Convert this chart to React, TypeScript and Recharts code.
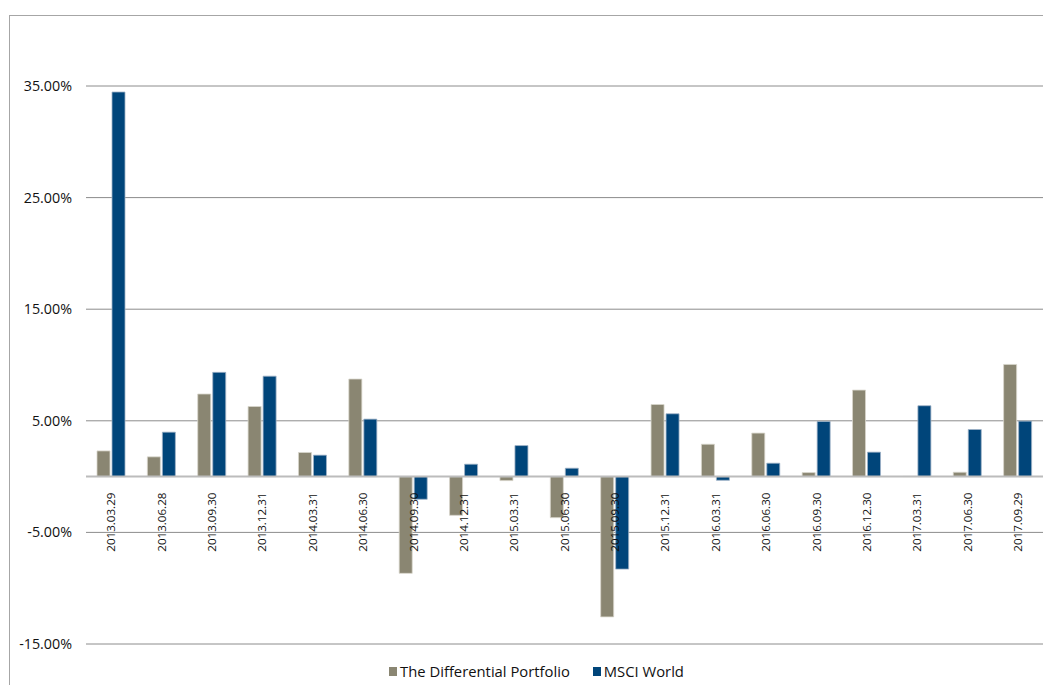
import { BarChart, Bar, XAxis, YAxis, CartesianGrid, ReferenceLine } from 'recharts';

const quarters = [
  '2013.03.29', '2013.06.28', '2013.09.30', '2013.12.31', '2014.03.31',
  '2014.06.30', '2014.09.30', '2014.12.31', '2015.03.31', '2015.06.30',
  '2015.09.30', '2015.12.31', '2016.03.31', '2016.06.30', '2016.09.30',
  '2016.12.30', '2017.03.31', '2017.06.30', '2017.09.29',
];

const differential = [
  2.3, 1.77, 7.4, 6.28, 2.16, 8.74, -8.67, -3.47, -0.36, -3.68,
  -12.57, 6.46, 2.9, 3.9, 0.36, 7.75, 0.02, 0.39, 10.05,
];

const msciWorld = [
  34.46, 3.98, 9.34, 9.0, 1.92, 5.15, -2.03, 1.11, 2.78, 0.75,
  -8.29, 5.63, -0.33, 1.2, 4.94, 2.19, 6.35, 4.22, 4.97,
];

const yTicks = [-15, -5, 5, 15, 25, 35];

const GREY = '#8a8672';
const NAVY = '#00457a';
const FONT = '"Open Sans", "Noto Sans", sans-serif';

const W = 1043;
const H = 685;
const MARGIN = { top: 86, right: 0, bottom: 40, left: 0 };
const X_AXIS_H = 1;
const Y_MIN = -15;
const Y_MAX = 35;
const PLOT_H = H - MARGIN.top - MARGIN.bottom - X_AXIS_H;

const series = [
  { key: 'portfolio', name: 'The Differential Portfolio', color: GREY, edge: '#d8d6cc' },
  { key: 'msci', name: 'MSCI World', color: NAVY, edge: '#9fb3c6' },
];

const data = quarters.map((q, i) => ({
  quarter: q,
  portfolio: differential[i],
  msci: msciWorld[i],
}));

// date labels sit just below the zero line rather than at the plot bottom
const QuarterTick = ({ x, payload }: any) => {
  const zeroY = MARGIN.top + ((Y_MAX - 0) / (Y_MAX - Y_MIN)) * PLOT_H;
  const ty = zeroY + 16;
  return (
    <text
      x={x}
      y={ty}
      dy="0.36em"
      transform={`rotate(-90, ${x}, ${ty})`}
      textAnchor="end"
      fontSize={11.6}
      fontFamily={FONT}
      fill="#111"
    >
      {payload.value}
    </text>
  );
};

export default function App() {
  return (
    <div style={{ position: 'absolute', left: 0, top: 0, width: W, height: H, background: '#fff' }}>
      <div
        style={{
          position: 'absolute',
          left: 9,
          top: 15,
          right: 0,
          bottom: 0,
          borderTop: '1.5px solid #a6a6a6',
          borderLeft: '1.5px solid #a6a6a6',
        }}
      />
      <BarChart
        width={W}
        height={H}
        data={data}
        margin={MARGIN}
        barSize={13}
        barGap={2}
        style={{ position: 'absolute', left: 0, top: 0 }}
      >
        <CartesianGrid vertical={false} stroke="#8c8c8c" strokeWidth={1} />
        <XAxis
          dataKey="quarter"
          axisLine={false}
          tickLine={false}
          interval={0}
          tick={<QuarterTick />}
          height={X_AXIS_H}
        />
        <YAxis
          domain={[Y_MIN, Y_MAX]}
          ticks={yTicks}
          allowDataOverflow
          width={86}
          axisLine={false}
          tickLine={false}
          tickSize={0}
          tickMargin={14}
          tickFormatter={(v: number) => `${v.toFixed(2)}%`}
          tick={{ fontSize: 14.3, fontFamily: FONT, fill: '#111' }}
        />
        <ReferenceLine y={0} stroke="#bcbcbc" strokeWidth={2} />
        {series.map(s => (
          <Bar
            key={s.key}
            dataKey={s.key}
            name={s.name}
            fill={s.color}
            stroke={s.edge}
            strokeWidth={0.8}
            isAnimationActive={false}
          />
        ))}
      </BarChart>
      <div
        style={{
          position: 'absolute',
          top: 661,
          left: 0,
          width: W,
          display: 'flex',
          justifyContent: 'center',
          gap: 23,
          fontFamily: FONT,
          fontSize: 14.8,
          color: '#111',
          paddingLeft: 30,
          boxSizing: 'border-box',
        }}
      >
        {series.map(s => (
          <span key={s.key} style={{ display: 'flex', alignItems: 'center' }}>
            <span style={{ width: 8, height: 9, background: s.color, marginRight: 3, display: 'inline-block' }} />
            {s.name}
          </span>
        ))}
      </div>
    </div>
  );
}
